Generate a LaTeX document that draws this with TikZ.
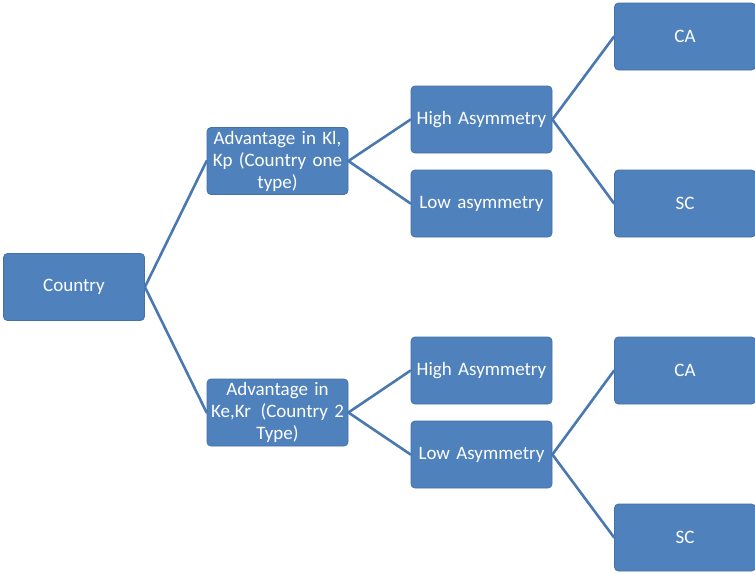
\documentclass[tikz,border=0pt]{standalone}
\usepackage{fontspec}
\setmainfont{Carlito}
\usepackage{xcolor}
\usetikzlibrary{calc}

\definecolor{boxblue}{HTML}{4F81BD}
\definecolor{boxedge}{HTML}{4472A8}
\definecolor{linkblue}{HTML}{4A78B0}
\newcommand\boxfont{\fontsize{19}{22}\selectfont\fontdimen2\font=0.14em\spaceskip=0.14em\relax}

\begin{document}
\begin{tikzpicture}[
  x=1pt, y=-1pt,
  line cap=round,
  line join=round,
  box/.style={draw=boxedge, line width=0.8pt, fill=boxblue, rounded corners=4pt,
    minimum width=141pt, minimum height=67pt, text width=140pt, align=center,
    inner sep=0.5pt, text=white, font=\boxfont},
  link/.style={draw=linkblue, line width=2.6pt}
]
  \useasboundingbox (0,0) rectangle (755,573);

  \node[box] (country) at (74, 287)    {Country};
  \node[box] (adva)    at (277.5, 161) {Advantage in Kl,\\Kp (Country one\\type)};
  \node[box] (advb)    at (277.5, 412.5) {Advantage in\\Ke,Kr\, (Country 2\\Type)};

  \node[box] (higha) at (481.5, 119.5) {High Asymmetry};
  \node[box] (lowa)  at (481.5, 203.5) {Low asymmetry};
  \node[box] (highb) at (481.5, 370.5) {High Asymmetry};
  \node[box] (lowb)  at (481.5, 454.5) {Low Asymmetry};

  \node[box] (caa) at (685, 36.5)  {CA};
  \node[box] (sca) at (685, 203.5) {SC};
  \node[box] (cab) at (685, 370.5) {CA};
  \node[box] (scb) at (685, 537.5) {SC};

  % tree branches
  \foreach \from/\to in {country/adva, country/advb, adva/higha, adva/lowa,
      advb/highb, advb/lowb, higha/caa, higha/sca, lowb/cab, lowb/scb}
    \draw[link] (\from.east) -- (\to.west);
\end{tikzpicture}
\end{document}
